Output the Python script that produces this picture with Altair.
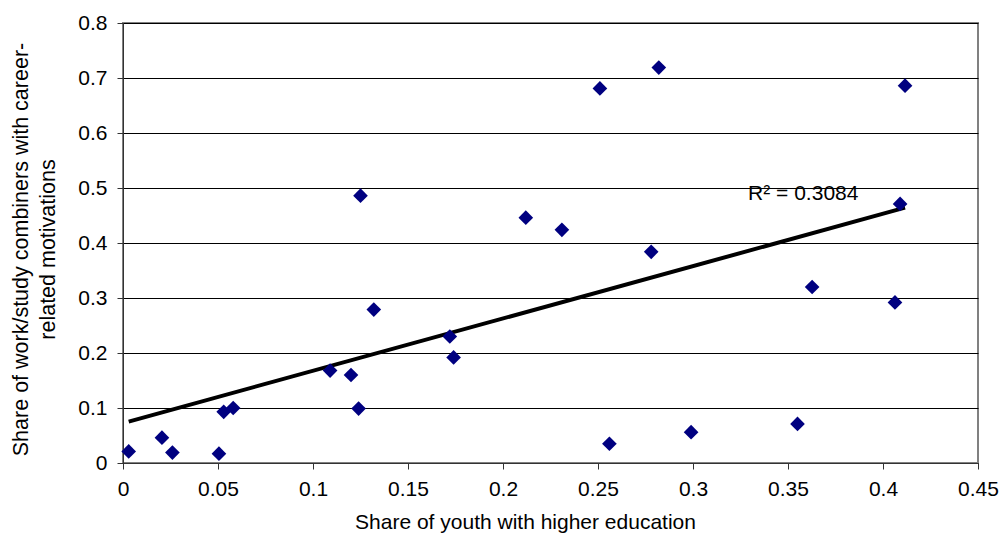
import altair as alt
import pandas as pd

# Share of youth with higher education
x_vals = [0.003, 0.0205, 0.026, 0.0505, 0.053, 0.058, 0.109, 0.120, 0.124, 0.125,
          0.132, 0.172, 0.174, 0.212, 0.231, 0.251, 0.256, 0.282, 0.278, 0.299,
          0.355, 0.3627, 0.4063, 0.409, 0.4116]
# Share of work/study combiners with career-related motivations
y_vals = [0.021, 0.046, 0.019, 0.017, 0.093, 0.100, 0.168, 0.160, 0.099, 0.486,
          0.279, 0.230, 0.192, 0.446, 0.424, 0.681, 0.035, 0.719, 0.384, 0.056,
          0.071, 0.320, 0.292, 0.471, 0.686]

r2_label = ["R² = 0.3084"]
r2_x = [0.329]
r2_y = [0.49]

df = pd.DataFrame({"x": x_vals, "y": y_vals})
lab = pd.DataFrame({"t": r2_label, "x": r2_x, "y": r2_y})

FONT = "Liberation Sans"
FS = 21

xs = alt.Scale(domain=[0, 0.45], nice=False)
ys = alt.Scale(domain=[0, 0.8], nice=False)

xaxis = alt.Axis(title="Share of youth with higher education", values=[i * 0.05 for i in range(10)],
                 format="~g", grid=False, tickSize=6, labelPadding=9,
                 titleX=402, titleY=59, titleBaseline="middle", titleAlign="center",
                 labelFontSize=FS, titleFontSize=FS, labelFont=FONT, titleFont=FONT,
                 labelColor="#000", titleColor="#000", titleFontWeight="normal",
                 domainColor="#333", tickColor="#333", labelFlush=False)
yaxis = alt.Axis(title=["Share of work/study combiners with career-", "related motivations"],
                 values=[i * 0.1 for i in range(9)], format="~g", grid=True,
                 gridColor="#000", gridWidth=1, tickSize=6, labelPadding=10,
                 titleX=-102, titleY=226, titleBaseline="middle", titleAlign="center",
                 titleAngle=270, titleLineHeight=27,
                 labelFontSize=FS, titleFontSize=21.5, labelFont=FONT, titleFont=FONT,
                 labelColor="#000", titleColor="#000", titleFontWeight="normal",
                 domainColor="#333", tickColor="#333")

base = alt.Chart(df)

pts = base.mark_point(shape="diamond", filled=True, size=215, color="#000080", opacity=1).encode(
    x=alt.X("x:Q", scale=xs, axis=xaxis),
    y=alt.Y("y:Q", scale=ys, axis=yaxis),
)

trend = base.transform_regression("x", "y").mark_line(color="#000", strokeWidth=4).encode(
    x=alt.X("x:Q", scale=xs),
    y=alt.Y("y:Q", scale=ys),
)

txt = alt.Chart(lab).mark_text(align="left", baseline="middle", fontSize=FS, font=FONT, color="#000").encode(
    x=alt.X("x:Q", scale=xs),
    y=alt.Y("y:Q", scale=ys),
    text="t:N",
)

chart = alt.layer(trend, pts, txt).properties(
    width=855, height=440,
    autosize=alt.AutoSizeParams(type="none"),
    padding={"left": 123, "top": 23, "right": 23, "bottom": 72},
    background="white",
).configure_view(stroke="#808080", strokeWidth=2)

chart.save("out.html", embed_options={"renderer": "svg", "actions": False})
